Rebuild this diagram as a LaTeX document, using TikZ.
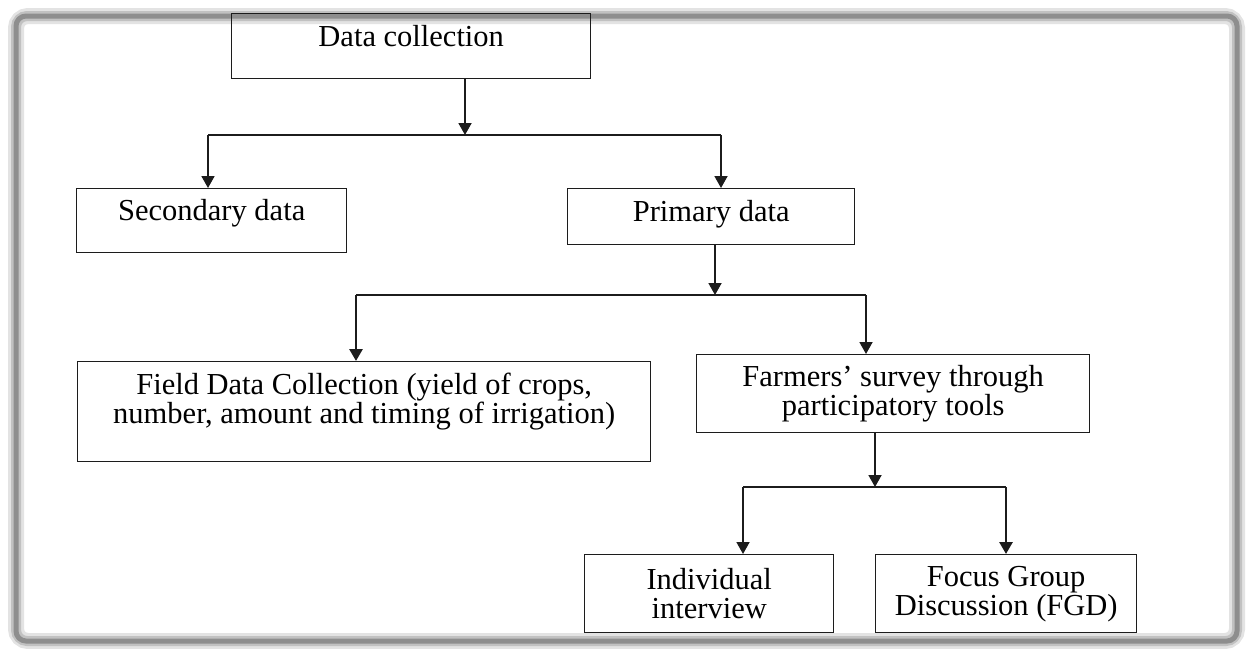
\documentclass[tikz,border=0pt]{standalone}
\usepackage{fontspec}
\setmainfont{Liberation Serif}
\usetikzlibrary{arrows.meta}
\definecolor{rahmen}{HTML}{8E8E8E}
\definecolor{linie}{HTML}{1C1C1C}
\tikzset{
  box/.style={draw=linie,line width=1.4pt,align=center,inner sep=0pt,anchor=north west,
    font=\fontsize{30.5}{29}\selectfont},
  arr/.style={-{Triangle[length=12pt,width=13pt]},linie,line width=1.8pt},
  arrb/.style={-{Triangle[length=12pt,width=13pt]},linie,line width=2.8pt},
  ast/.style={linie,line width=1.8pt},
}

\begin{document}
\begin{tikzpicture}[x=1pt,y=-1pt]
  \useasboundingbox (0,0) rectangle (1252,648);
  % frame with soft shadow
  \draw[rahmen!25,line width=16pt,rounded corners=12pt] (16,16) rectangle (1237,641);
  \draw[rahmen!55,line width=10pt,rounded corners=11pt] (16,16) rectangle (1237,641);
  \draw[rahmen,line width=5pt,rounded corners=10pt] (16,16) rectangle (1237,641);
  % boxes
  \node[box,minimum width=359,minimum height=65,text depth=20pt] (dc) at (231,13) {Data collection};
  \node[box,minimum width=270,minimum height=64,text depth=22pt] (sec) at (76,188) {Secondary data};
  \node[box,minimum width=287,minimum height=56,text depth=12pt] (pri) at (567,188) {Primary data};
  \node[box,minimum width=573,minimum height=100,text depth=26pt] (fld) at (77,361)
    {Field Data Collection (yield of crops,\\number, amount and timing of irrigation)};
  \node[box,minimum width=393,minimum height=78] (frm) at (696,354)
    {Farmers’ survey through\\participatory tools};
  \node[box,minimum width=249,minimum height=78] (ind) at (584,554) {Individual\\interview};
  \node[box,minimum width=261,minimum height=78] (fgd) at (875,554) {Focus Group\\Discussion (FGD)};
  % junctions
  \coordinate (j1) at (465,135);
  \coordinate (b1) at (208,135);
  \coordinate (b2) at (721,135);
  \coordinate (j2) at (715,295);
  \coordinate (b3) at (356,295);
  \coordinate (b4) at (866,295);
  \coordinate (j3) at (875,487);
  \coordinate (b5) at (743,487);
  \coordinate (b6) at (1006,487);
  % connectors
  \draw[arr] (dc.south -| j1) -- (j1);
  \draw[ast] (b1) -- (b2);
  \draw[arr] (b1) -- (b1 |- sec.north);
  \draw[arr] (b2) -- (b2 |- pri.north);
  \draw[arr] (pri.south -| j2) -- (j2);
  \draw[ast] (b3) -- (b4);
  \draw[arrb] (b3) -- (b3 |- fld.north);
  \draw[arr] (b4) -- (b4 |- frm.north);
  \draw[arr] (frm.south -| j3) -- (j3);
  \draw[ast] (b5) -- (b6);
  \draw[arr] (b5) -- (b5 |- ind.north);
  \draw[arrb] (b6) -- (b6 |- fgd.north);
\end{tikzpicture}
\end{document}
